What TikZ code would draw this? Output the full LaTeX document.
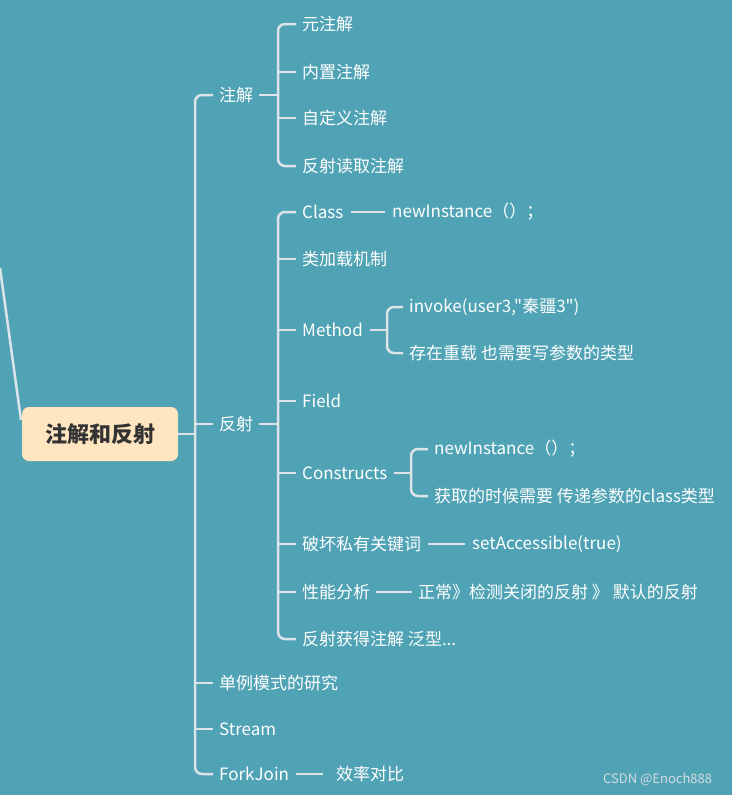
\documentclass[tikz,border=0pt]{standalone}
\usepackage{fontspec}
\newfontfamily\cjk{Noto Sans CJK SC}
\definecolor{bg}{HTML}{50A3B5}
\definecolor{ln}{HTML}{DCE3E9}
\definecolor{rootfill}{HTML}{FFE6C0}
\definecolor{roottext}{HTML}{333333}
\definecolor{wmtext}{HTML}{D5DCE0}
\begin{document}
\begin{tikzpicture}[x=1pt,y=-1pt,
  conn/.style={draw=ln,line width=2.5pt,rounded corners=7pt},
  leaf/.style={anchor=west,inner sep=0pt,text=white,font=\cjk\fontsize{17}{20}\selectfont},
  rootbox/.style={fill=rootfill,rounded corners=7pt,minimum width=156pt,minimum height=54pt,inner sep=0pt,text=roottext,font=\cjk\bfseries\fontsize{22}{25}\selectfont},
  wm/.style={anchor=west,inner sep=0pt,text=wmtext,font=\cjk\fontsize{13}{15}\selectfont}]
\fill[bg] (0,0) rectangle (732,795);
\useasboundingbox (0,0) rectangle (732,795);

% spines
\coordinate (s0) at (195,0);
\coordinate (s1) at (278,0);
\coordinate (s2) at (278,0);
\coordinate (s3) at (387,0);
\coordinate (s4) at (411,0);
\coordinate (lstart) at (0,268);

% root
\draw[conn] (lstart) -- (21,420);
\node[rootbox] (root) at (100,434) {注解和反射};

% level 1
\node[leaf] (zj) at (219,95) {注解};
\node[leaf] (fs) at (219,424) {反射};
\node[leaf] (dl) at (219,683) {单例模式的研究};
\node[leaf] (st) at (219,729) {Stream};
\node[leaf] (fj) at (219,774) {ForkJoin};
\node[leaf] (xl) at (336,774) {效率对比};

% under 注解
\node[leaf] (a1) at (302,24) {元注解};
\node[leaf] (a2) at (302,72) {内置注解};
\node[leaf] (a3) at (302,118) {自定义注解};
\node[leaf] (a4) at (302,166) {反射读取注解};

% under 反射
\node[leaf] (b1) at (302,212) {Class};
\node[leaf] (b1x) at (392,212) {newInstance（）；};
\node[leaf] (b2) at (302,259) {类加载机制};
\node[leaf] (b3) at (302,330) {Method};
\node[leaf] (b3a) at (409,307) {invoke(user3,"秦疆3")};
\node[leaf] (b3b) at (409,353) {存在重载 也需要写参数的类型};
\node[leaf] (b4) at (302,401) {Field};
\node[leaf] (b5) at (302,473) {Constructs};
\node[leaf] (b5a) at (434,449) {newInstance（）；};
\node[leaf] (b5b) at (434,496) {获取的时候需要 传递参数的class类型};
\node[leaf] (b6) at (302,544) {破坏私有关键词};
\node[leaf] (b6x) at (472,544) {setAccessible(true)};
\node[leaf] (b7) at (302,592) {性能分析};
\node[leaf] (b7x) at (418,592) {正常》检测关闭的反射 》 默认的反射};
\node[leaf] (b8) at (302,639) {反射获得注解 泛型...};

% level-1 bracket
\draw[conn] (root.east) -- (s0 |- root.east);
\draw[conn] ([xshift=-6pt]zj.west) -- (s0 |- zj.west) -- (s0 |- fj.west) -- ([xshift=-6pt]fj.west);
\foreach \c in {fs,dl,st} \draw[conn] (s0 |- \c.west) -- ([xshift=-6pt]\c.west);
\draw[conn] ([xshift=7pt]fj.east) -- ([xshift=-13pt]xl.west);

% 注解 bracket
\draw[conn] ([xshift=6pt]zj.east) -- (s1 |- zj.east);
\draw[conn] ([xshift=-6pt]a1.west) -- (s1 |- a1.west) -- (s1 |- a4.west) -- ([xshift=-6pt]a4.west);
\foreach \c in {a2,a3} \draw[conn] (s1 |- \c.west) -- ([xshift=-6pt]\c.west);

% 反射 bracket
\draw[conn] ([xshift=6pt]fs.east) -- (s2 |- fs.east);
\draw[conn] ([xshift=-6pt]b1.west) -- (s2 |- b1.west) -- (s2 |- b8.west) -- ([xshift=-6pt]b8.west);
\foreach \c in {b2,b3,b4,b5,b6,b7} \draw[conn] (s2 |- \c.west) -- ([xshift=-6pt]\c.west);

% Class -- newInstance
\draw[conn] ([xshift=7pt]b1.east) -- ([xshift=-7pt]b1x.west);

% Method bracket
\draw[conn] ([xshift=7pt]b3.east) -- (s3 |- b3.east);
\draw[conn] ([xshift=-6pt]b3a.west) -- (s3 |- b3a.west) -- (s3 |- b3b.west) -- ([xshift=-6pt]b3b.west);

% Constructs bracket
\draw[conn] ([xshift=7pt]b5.east) -- (s4 |- b5.east);
\draw[conn] ([xshift=-6pt]b5a.west) -- (s4 |- b5a.west) -- (s4 |- b5b.west) -- ([xshift=-6pt]b5b.west);

% single links
\draw[conn] ([xshift=7pt]b6.east) -- ([xshift=-7pt]b6x.west);
\draw[conn] ([xshift=6pt]b7.east) -- ([xshift=-6pt]b7x.west);

% watermark
\node[wm] (wmark) at (603,779) {CSDN @Enoch888};
\end{tikzpicture}
\end{document}
